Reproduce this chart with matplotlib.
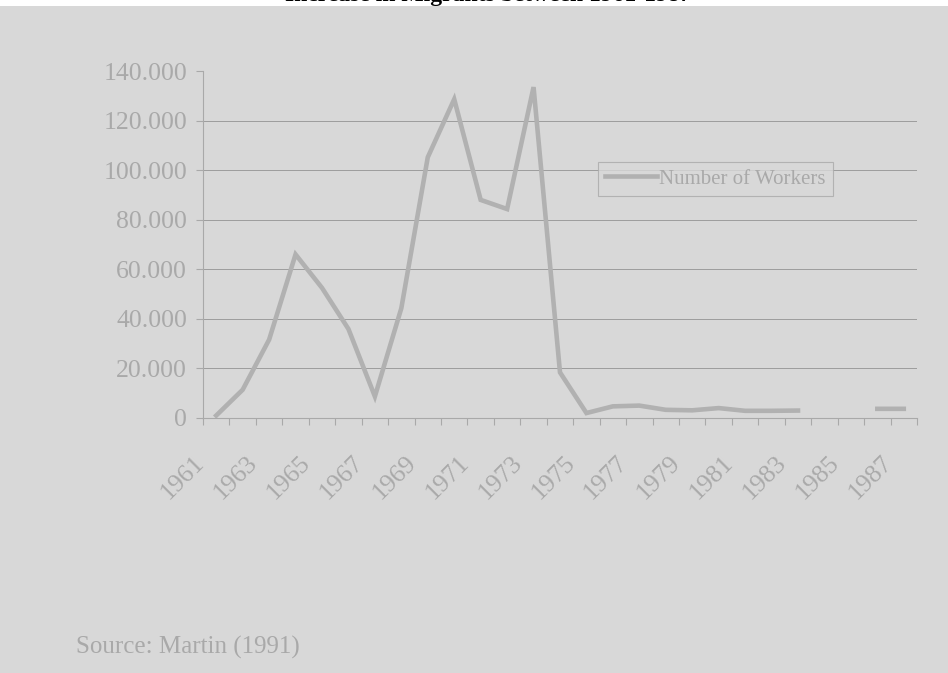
import matplotlib
matplotlib.use("Agg")
from matplotlib import pyplot as plt
from matplotlib import transforms
from matplotlib.patches import Rectangle
import numpy as np

years = list(range(1961, 1988))
# number of workers per year, 1984 and 1985 missing in the original
workers = [1000, 11400, 31600, 66000, 52500, 35900, 8700, 44300, 105200, 128600,
           88000, 84300, 133500, 18400, 2000, 4700, 5000, 3300, 3100, 4000,
           2900, 2900, 3000, np.nan, np.nan, 3700, 3700]
y_ticks = [0, 20000, 40000, 60000, 80000, 100000, 120000, 140000]
tick_years = years[::2]

paper = "#d8d8d8"
ink = "#a9a9a9"
line_col = "#b1b1b1"
grid_col = "#9d9d9d"

plt.rcParams["font.family"] = ["Liberation Serif", "DejaVu Serif"]

fig = plt.figure(figsize=(9.48, 6.73), dpi=100, facecolor=paper)
# white strip at the very top with the cut-off title
fig.patches.append(Rectangle((0, 1 - 6 / 673), 1, 6 / 673, transform=fig.transFigure,
                             facecolor="white", edgecolor="none", zorder=0))
fig.text(0.515, 1 - 1.5 / 673, "Increase in Migrants between 1961-1987", ha="center",
         va="baseline", fontsize=17, fontweight="bold", color="black")

ax = fig.add_axes([203 / 948, 1 - 418 / 673, 714 / 948, 347 / 673])
ax.set_facecolor("none")

x = np.arange(len(years))
ax.plot(x, workers, color=line_col, lw=3.3, solid_joinstyle="miter",
        label="Number of Workers", zorder=3)

ax.set_xlim(-0.5, len(years) - 0.5)
ax.set_ylim(0, 140000)

for s in ["top", "right"]:
    ax.spines[s].set_visible(False)
for s in ["left", "bottom"]:
    ax.spines[s].set_color(ink)
    ax.spines[s].set_linewidth(0.8)

ax.set_yticks(y_ticks)
ax.set_yticklabels([f"{v:,}".replace(",", ".") for v in y_ticks])
ax.tick_params(axis="y", length=5, width=0.8, color=ink, labelcolor=ink,
               labelsize=18.5, pad=6.5)
for v in y_ticks[1:-1]:
    ax.axhline(v, color=grid_col, lw=0.7, zorder=1)

ax.set_xticks([years.index(y) for y in tick_years])
ax.set_xticklabels([str(y) for y in tick_years], rotation=45, ha="right",
                   va="center", rotation_mode="anchor")
ax.set_xticks(np.arange(len(years) + 1) - 0.5, minor=True)
ax.tick_params(axis="x", which="major", length=0, labelcolor=ink, labelsize=18.5, pad=0)
ax.tick_params(axis="x", which="minor", length=5, width=0.8, color=ink)
shift = transforms.ScaledTranslation(-0.15, -0.41, fig.dpi_scale_trans)
for lab in ax.get_xticklabels():
    lab.set_transform(lab.get_transform() + shift)

leg = ax.legend(loc="upper left", bbox_to_anchor=(0.553, 0.738), frameon=True,
                fancybox=False, fontsize=15, handlelength=2.5, handletextpad=0.1,
                borderpad=0.35, borderaxespad=0)
leg.get_frame().set_facecolor(paper)
leg.get_frame().set_edgecolor(ink)
leg.get_frame().set_linewidth(0.8)
for t in leg.get_texts():
    t.set_color(ink)

fig.text(76 / 948, 1 - 654 / 673, "Source: Martin (1991)", fontsize=18, color=ink,
         va="baseline")

fig.savefig("out.png", dpi=100, facecolor=paper)
